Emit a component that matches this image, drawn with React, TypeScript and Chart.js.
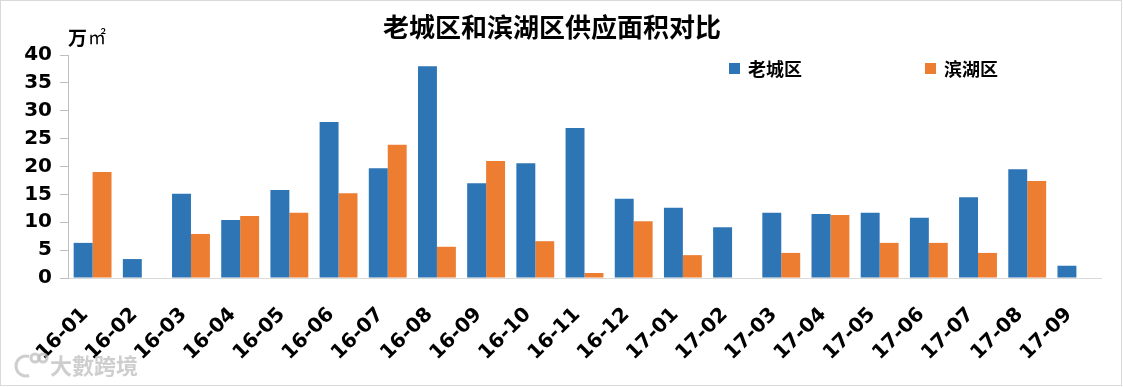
import React, { useEffect, useRef } from "react";
import { Chart, registerables } from "chart.js";

Chart.register(...registerables);

const categories = [
  "16-01", "16-02", "16-03", "16-04", "16-05", "16-06", "16-07", "16-08", "16-09", "16-10", "16-11", "16-12",
  "17-01", "17-02", "17-03", "17-04", "17-05", "17-06", "17-07", "17-08", "17-09",
];
const laochengValues = [6.3, 3.4, 15.1, 10.4, 15.8, 28.0, 19.7, 38.0, 17.0, 20.6, 26.9, 14.2, 12.6, 9.1, 11.7, 11.5, 11.7, 10.8, 14.5, 19.5, 2.2];
const binhuValues = [19.0, null, 7.9, 11.1, 11.7, 15.2, 23.9, 5.6, 21.0, 6.6, 0.9, 10.2, 4.1, null, 4.5, 11.3, 6.3, 6.3, 4.5, 17.4, null];
const seriesNames = ["老城区", "滨湖区"];
const titleText = "老城区和滨湖区供应面积对比";
const unitMain = "万";
const unitSub = "㎡";
const watermarkText = "大數跨境";

const BLUE = "#2E75B6";
const ORANGE = "#ED7D31";
const CJK = '"Noto Sans CJK SC", "Noto Sans", sans-serif';
const NUM = '"DejaVu Sans", Verdana, sans-serif';

const decorPlugin = {
  id: "decor",
  afterDraw(chart: any) {
    const ctx = chart.ctx as CanvasRenderingContext2D;
    ctx.save();
    // outer border
    ctx.strokeStyle = "#d9d9d9";
    ctx.lineWidth = 1;
    ctx.strokeRect(0.5, 0.5, 1121, 385);
    // title
    ctx.fillStyle = "#000";
    ctx.font = `bold 26px ${CJK}`;
    ctx.textAlign = "left";
    ctx.textBaseline = "middle";
    ctx.fillText(titleText, 383, 27);
    // unit
    ctx.font = `bold 19px ${CJK}`;
    ctx.fillText(unitMain, 68, 38);
    ctx.font = `18px ${CJK}`;
    ctx.fillText(unitSub, 88, 37);
    // legend
    const legendX = [729, 925];
    chart.data.datasets.forEach((ds: any, i: number) => {
      const x = legendX[i];
      ctx.fillStyle = ds.backgroundColor;
      ctx.fillRect(x, 63, 11, 11);
      ctx.fillStyle = "#000";
      ctx.font = `bold 18px ${CJK}`;
      ctx.textBaseline = "middle";
      ctx.fillText(ds.label, x + 19, 69);
    });
    // x category labels, rotated 45°
    const xScale = chart.scales.x;
    ctx.font = `bold 20px ${NUM}`;
    ctx.fillStyle = "#000";
    ctx.textAlign = "center";
    ctx.textBaseline = "middle";
    (chart.data.labels as string[]).forEach((lab, i) => {
      const px = xScale.getPixelForValue(i);
      ctx.save();
      ctx.translate(px - 30, 334);
      ctx.rotate(-Math.PI / 4);
      ctx.fillText(lab, 0, 0);
      ctx.restore();
    });
    // watermark
    ctx.textAlign = "left";
    ctx.fillStyle = "rgba(190,190,190,0.75)";
    ctx.font = `bold 22px ${CJK}`;
    ctx.fillText(watermarkText, 50, 366);
    ctx.strokeStyle = "rgba(190,190,190,0.75)";
    ctx.lineWidth = 3;
    ctx.beginPath();
    ctx.arc(26, 366, 10, Math.PI * 0.4, Math.PI * 1.6);
    ctx.stroke();
    ctx.beginPath();
    ctx.arc(35, 358, 4, 0, Math.PI * 2);
    ctx.stroke();
    ctx.beginPath();
    ctx.arc(43, 358, 4, 0, Math.PI * 2);
    ctx.stroke();
    ctx.restore();
  },
};

export default function App() {
  const canvasRef = useRef<HTMLCanvasElement | null>(null);

  useEffect(() => {
    document.body.style.margin = "0";
    const canvas = canvasRef.current;
    if (!canvas) return;
    const chart = new Chart(canvas, {
      type: "bar",
      data: {
        labels: categories,
        datasets: [
          { label: seriesNames[0], data: laochengValues, backgroundColor: BLUE, categoryPercentage: 0.77, barPercentage: 1 },
          { label: seriesNames[1], data: binhuValues as any, backgroundColor: ORANGE, categoryPercentage: 0.77, barPercentage: 1 },
        ],
      },
      options: {
        responsive: false,
        animation: false,
        layout: { padding: { top: 55, left: 0, right: 22, bottom: 0 } },
        plugins: {
          legend: { display: false },
          title: { display: false },
          tooltip: { enabled: false },
        },
        scales: {
          x: {
            grid: { display: false, drawTicks: false },
            border: { color: "#d9d9d9", width: 1 },
            ticks: { display: false },
            afterFit: (scale: any) => {
              scale.height = 109;
            },
          },
          y: {
            min: 0,
            max: 40,
            ticks: {
              stepSize: 5,
              color: "#000",
              font: { family: NUM, size: 20, weight: "bold" },
              padding: 8,
            },
            grid: { drawOnChartArea: false, tickLength: 8, color: "#bfbfbf" },
            border: { color: "#bfbfbf", width: 1 },
            afterFit: (scale: any) => {
              scale.width = 68;
            },
          },
        },
      },
      plugins: [decorPlugin],
    });
    return () => chart.destroy();
  }, []);

  return (
    <div style={{ position: "absolute", left: 0, top: 0, width: 1123, height: 387, background: "#fff" }}>
      <canvas ref={canvasRef} width={1123} height={387} style={{ display: "block" }} />
    </div>
  );
}
